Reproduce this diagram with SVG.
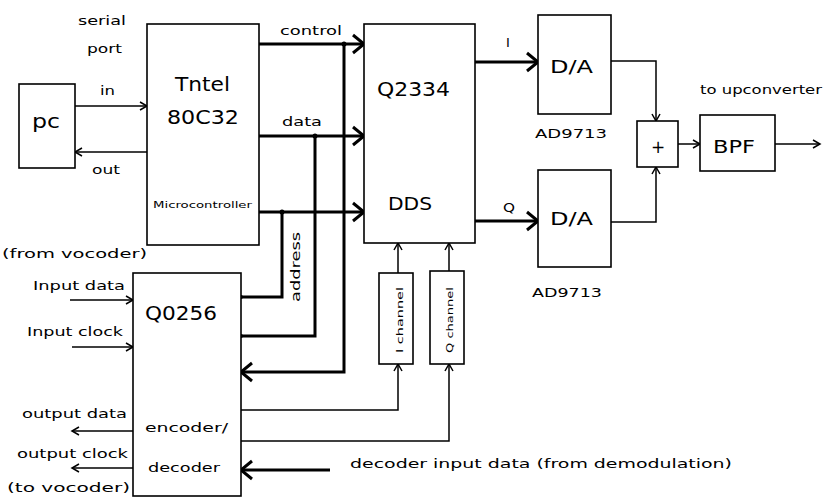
<svg xmlns="http://www.w3.org/2000/svg" width="834" height="501" viewBox="0 0 834 501">
<style>
.box{fill:#fff;stroke:#000;stroke-width:1.6}
.thin{fill:none;stroke:#000;stroke-width:1.5}
.thick{fill:none;stroke:#000;stroke-width:3}
text{font-family:"DejaVu Sans","Liberation Sans",sans-serif;fill:#000}
.lbl{font-size:13px}
.big{font-size:20px}
.mid{font-size:17px}
.sm{font-size:9px}
</style>
<defs>
<marker id="at" markerUnits="userSpaceOnUse" markerWidth="10" markerHeight="10" refX="8" refY="5" orient="auto">
<path d="M1,1 L8,5 L1,9" fill="none" stroke="#000" stroke-width="1.5"/>
</marker>
<marker id="aT" markerUnits="userSpaceOnUse" markerWidth="16" markerHeight="22" refX="13" refY="11" orient="auto">
<path d="M2,2 L13,11 L2,20" fill="none" stroke="#000" stroke-width="3"/>
</marker>
</defs>
<rect width="834" height="501" fill="#fff"/>

<g id="connectors">
<path class="thin" d="M75,106 H147" marker-end="url(#at)"/>
<path class="thin" d="M147,152 H75" marker-end="url(#at)"/>
<path class="thick" d="M259,44 H364" marker-end="url(#aT)"/>
<path class="thick" d="M259,136 H364" marker-end="url(#aT)"/>
<path class="thick" d="M259,212 H364" marker-end="url(#aT)"/>
<path class="thick" d="M344,44 V372 H241" marker-end="url(#aT)"/>
<path class="thick" d="M315,136 V336 H241"/>
<path class="thick" d="M282,212 V297 H241"/>
<path class="thick" d="M475,62 H538" marker-end="url(#aT)"/>
<path class="thick" d="M475,221 H538" marker-end="url(#aT)"/>
<path class="thin" d="M611,61 H656 V121" marker-end="url(#at)"/>
<path class="thin" d="M611,222 H656 V167" marker-end="url(#at)"/>
<path class="thin" d="M678,144 H700" marker-end="url(#at)"/>
<path class="thin" d="M775,144 H820" marker-end="url(#at)"/>
<path class="thin" d="M398,273 V243" marker-end="url(#at)"/>
<path class="thin" d="M449,271 V243" marker-end="url(#at)"/>
<path class="thin" d="M241,410 H398 V364" marker-end="url(#at)"/>
<path class="thin" d="M241,441 H449 V364" marker-end="url(#at)"/>
<path class="thick" d="M330,470 H241" marker-end="url(#aT)"/>
<path class="thin" d="M70,300 H133" marker-end="url(#at)"/>
<path class="thin" d="M72,347 H133" marker-end="url(#at)"/>
<path class="thin" d="M133,431 H72" marker-end="url(#at)"/>
<path class="thin" d="M133,468 H72" marker-end="url(#at)"/>
<circle cx="344" cy="44" r="2.5"/>
<circle cx="315" cy="136" r="2.5"/>
<circle cx="282" cy="212" r="2.5"/>
<circle cx="241" cy="297" r="2"/>
<circle cx="241" cy="336" r="2"/>
<text class="lbl" x="280" y="35" textLength="62" lengthAdjust="spacingAndGlyphs">control</text>
<text class="lbl" x="282" y="126" textLength="40" lengthAdjust="spacingAndGlyphs">data</text>
<text class="lbl" transform="translate(300,267) rotate(-90)" x="-35" y="0" textLength="70" lengthAdjust="spacingAndGlyphs">address</text>
<text class="lbl" x="508" y="47" text-anchor="middle">I</text>
<text class="lbl" x="503" y="212" textLength="12" lengthAdjust="spacingAndGlyphs">Q</text>
<text class="lbl" x="78" y="25" textLength="48" lengthAdjust="spacingAndGlyphs">serial</text>
<text class="lbl" x="87" y="53" textLength="35" lengthAdjust="spacingAndGlyphs">port</text>
<text class="lbl" x="100" y="95" textLength="15" lengthAdjust="spacingAndGlyphs">in</text>
<text class="lbl" x="92" y="174" textLength="28" lengthAdjust="spacingAndGlyphs">out</text>
<text class="lbl" x="2" y="258" textLength="145" lengthAdjust="spacingAndGlyphs">(from vocoder)</text>
<text class="lbl" x="33" y="290" textLength="92" lengthAdjust="spacingAndGlyphs">Input data</text>
<text class="lbl" x="27" y="336" textLength="96" lengthAdjust="spacingAndGlyphs">Input clock</text>
<text class="lbl" x="22" y="418" textLength="105" lengthAdjust="spacingAndGlyphs">output data</text>
<text class="lbl" x="17" y="458" textLength="111" lengthAdjust="spacingAndGlyphs">output clock</text>
<text class="lbl" x="7" y="492" textLength="123" lengthAdjust="spacingAndGlyphs">(to vocoder)</text>
<text class="lbl" x="700" y="94" textLength="122" lengthAdjust="spacingAndGlyphs">to upconverter</text>
<text class="lbl" x="350" y="468" textLength="382" lengthAdjust="spacingAndGlyphs">decoder input data  (from demodulation)</text>
<text class="lbl" x="535" y="138" textLength="72" lengthAdjust="spacingAndGlyphs">AD9713</text>
<text class="lbl" x="532" y="297" textLength="70" lengthAdjust="spacingAndGlyphs">AD9713</text>
</g>

<g id="pc">
<rect class="box" x="19" y="84" width="56" height="84"/>
<text class="big" x="32" y="128" textLength="28" lengthAdjust="spacingAndGlyphs">pc</text>
</g>
<g id="intel">
<rect class="box" x="147" y="24" width="112" height="221"/>
<text class="big" x="175" y="91" textLength="55" lengthAdjust="spacingAndGlyphs">Tntel</text>
<text class="big" x="167" y="124" textLength="72" lengthAdjust="spacingAndGlyphs">80C32</text>
<text class="sm" x="153" y="208" textLength="99" lengthAdjust="spacingAndGlyphs">Microcontroller</text>
</g>
<g id="q2334">
<rect class="box" x="364" y="24" width="111" height="219"/>
<text class="big" x="377" y="96" textLength="73" lengthAdjust="spacingAndGlyphs">Q2334</text>
<text class="mid" x="388" y="210" textLength="44" lengthAdjust="spacingAndGlyphs">DDS</text>
</g>
<g id="da1">
<rect class="box" x="538" y="15" width="73" height="99"/>
<text class="mid" x="550" y="73" textLength="43" lengthAdjust="spacingAndGlyphs">D/A</text>
</g>
<g id="da2">
<rect class="box" x="538" y="170" width="73" height="97"/>
<text class="mid" x="550" y="225" textLength="43" lengthAdjust="spacingAndGlyphs">D/A</text>
</g>
<g id="adder">
<rect class="box" x="637" y="121" width="41" height="46"/>
<text class="mid" x="658" y="153" text-anchor="middle">+</text>
</g>
<g id="bpf">
<rect class="box" x="700" y="115" width="75" height="56"/>
<text class="mid" x="713" y="153" textLength="42" lengthAdjust="spacingAndGlyphs">BPF</text>
</g>
<g id="ichannel">
<rect class="box" x="379" y="273" width="34" height="91"/>
<text class="sm" transform="translate(403,320) rotate(-90)" x="-33" y="0" textLength="66" lengthAdjust="spacingAndGlyphs">I channel</text>
</g>
<g id="qchannel">
<rect class="box" x="430" y="271" width="34" height="93"/>
<text class="sm" transform="translate(453,320) rotate(-90)" x="-33" y="0" textLength="66" lengthAdjust="spacingAndGlyphs">Q channel</text>
</g>
<g id="q0256">
<rect class="box" x="133" y="273" width="108" height="223"/>
<text class="big" x="145" y="320" textLength="72" lengthAdjust="spacingAndGlyphs">Q0256</text>
<text class="lbl" x="145" y="432" textLength="83" lengthAdjust="spacingAndGlyphs">encoder/</text>
<text class="lbl" x="148" y="472" textLength="72" lengthAdjust="spacingAndGlyphs">decoder</text>
</g>
</svg>
